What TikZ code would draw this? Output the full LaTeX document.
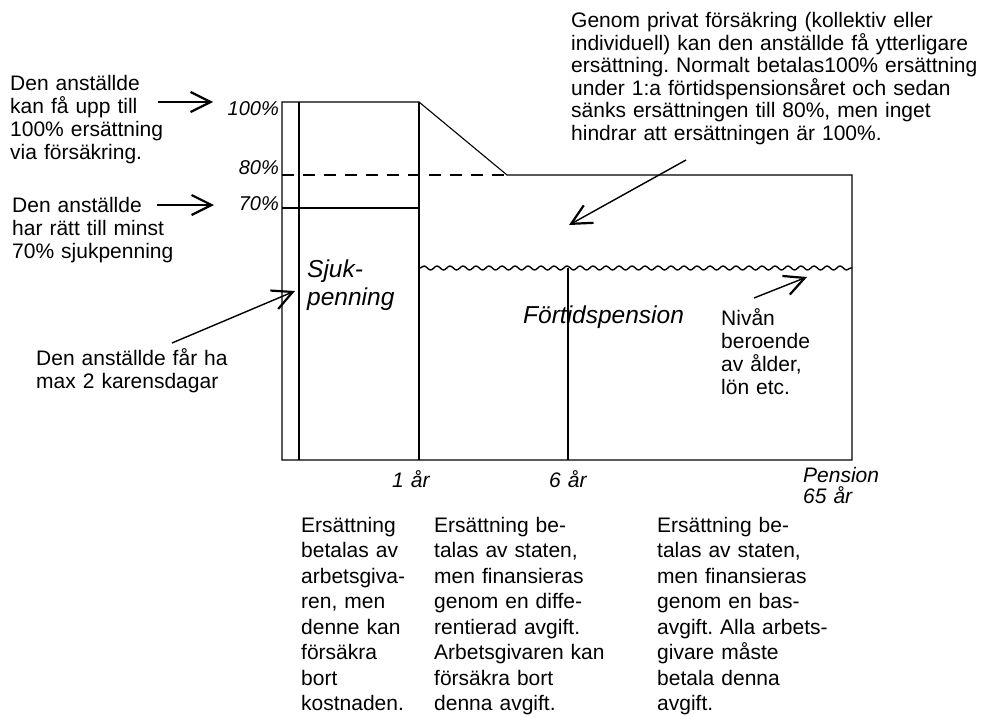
\documentclass[tikz,border=0pt]{standalone}
\usepackage{fontspec}
\setmainfont{Liberation Sans}
\usetikzlibrary{arrows.meta,decorations.pathmorphing}
\frenchspacing
\begin{document}
\begin{tikzpicture}[x=1pt,y=-1pt,
  frame/.style={line width=1.1pt},
  body/.style={anchor=base west, inner sep=0pt, align=left, text width=420pt,
    font=\fontsize{21pt}{23.3pt}\selectfont},
  bodyb/.style={body, font=\fontsize{21pt}{25.5pt}\selectfont},
  bodyr/.style={body, font=\fontsize{21pt}{22.5pt}\selectfont},
  pct/.style={anchor=base east, inner sep=0pt, font=\fontsize{20pt}{22pt}\selectfont\itshape},
  axl/.style={anchor=base west, inner sep=0pt, align=left, text width=120pt,
    font=\fontsize{21pt}{21.3pt}\selectfont\itshape},
  big/.style={anchor=base west, inner sep=0pt, align=left, text width=250pt,
    font=\fontsize{24.5pt}{28pt}\selectfont\itshape},
  arr/.style={line width=1.4pt, -{Straight Barb[length=20pt,width=20pt,line width=2.2pt]}}]
\useasboundingbox (0,0) rectangle (982,717);

% frame
\draw[frame] (282,102) -- (282,460) -- (852,460) -- (852,175) -- (507,175) -- (419,102) -- cycle;
\draw[frame] (299,102) -- (299,460);
\draw[frame] (419,102) -- (419,460);
\draw[frame] (282,208) -- (419,208);
\draw[frame, dash pattern=on 12pt off 9pt] (282,175) -- (507,175);
\draw[frame] (568,268) -- (568,460);
\draw[line width=1.4pt, decorate, decoration={snake, segment length=13pt, amplitude=2pt}] (420,268) -- (852,268);

% labels on axis
\node[pct] (p100) at (279,115) {100\%};
\node[pct] (p80) at (279,174) {80\%};
\node[pct] (p70) at (279,210) {70\%};
\node[axl] (y1) at (392,487) {1 år};
\node[axl] (y6) at (549,487) {6 år};
\node[axl] (y65) at (803,482) {Pension\\65 år};
\node[big] (sjuk) at (307,277) {Sjuk-\\penning};
\node[big] (fort) at (523,323) {Förtidspension};

% texts
\node[body] (t1) at (10,90) {Den anställde\\kan få upp till\\100\% ersättning\\via försäkring.};
\node[body] (t2) at (12,212) {Den anställde\\har rätt till minst\\70\% sjukpenning};
\node[body] (t3) at (36,365) {Den anställde får ha\\max 2 karensdagar};
\node[body] (t4) at (721,325) {Nivån\\beroende\\av ålder,\\lön etc.};
\node[bodyr] (t5) at (571,28) {Genom privat försäkring (kollektiv eller\\individuell) kan den anställde få ytterligare\\ersättning. Normalt betalas100\% ersättning\\under 1:a förtidspensionsåret och sedan\\sänks ersättningen till 80\%, men inget\\hindrar att ersättningen är 100\%.};
\node[bodyb] (c1) at (301,532) {Ersättning\\betalas av\\arbetsgiva-\\ren, men\\denne kan\\försäkra\\bort\\kostnaden.};
\node[bodyb] (c2) at (434,532) {Ersättning be-\\talas av staten,\\men finansieras\\genom en diffe-\\rentierad avgift.\\Arbetsgivaren kan\\försäkra bort\\denna avgift.};
\node[bodyb] (c3) at (657,532) {Ersättning be-\\talas av staten,\\men finansieras\\genom en bas-\\avgift. Alla arbets-\\givare måste\\betala denna\\avgift.};

% arrows
\coordinate (a1s) at (158,102); \coordinate (a1e) at (213,102);
\coordinate (a2s) at (157,205); \coordinate (a2e) at (214,205);
\coordinate (a3s) at (172,343); \coordinate (a3e) at (295,291);
\coordinate (a4s) at (686,160); \coordinate (a4e) at (569,225);
\coordinate (a5s) at (754,298); \coordinate (a5e) at (807,277);
\draw[arr] (a1s) -- (a1e);
\draw[arr] (a2s) -- (a2e);
\draw[arr] (a3s) -- (a3e);
\draw[arr] (a4s) -- (a4e);
\draw[arr] (a5s) -- (a5e);
\end{tikzpicture}
\end{document}
